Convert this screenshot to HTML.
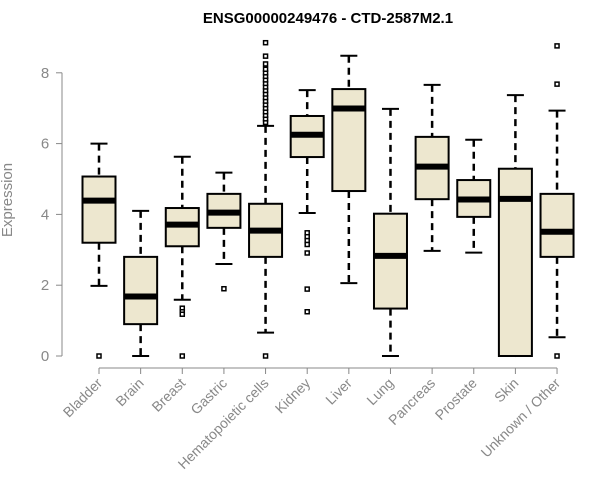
<!DOCTYPE html>
<html><head><meta charset="utf-8"><style>
body{margin:0;background:#fff}
svg{display:block;font-family:"Liberation Sans",Arial,sans-serif}
</style></head><body>
<svg id="chart" width="600" height="500">
<text x="328" y="23" text-anchor="middle" font-weight="bold" font-size="15">ENSG00000249476 - CTD-2587M2.1</text>
<text x="12" y="200" transform="rotate(-90 12 200)" text-anchor="middle" font-size="15" fill="#888">Expression</text>
<g id="yaxis"></g>
<g id="xaxis"></g>
<g id="boxes"></g>
</svg>
<script>
const categories=["Bladder","Brain","Breast","Gastric","Hematopoietic cells","Kidney","Liver","Lung","Pancreas","Prostate","Skin","Unknown / Other"];
const whiskerLow=[1.98,0,1.59,2.6,0.66,4.04,2.06,0,2.97,2.92,0,0.53];
const q1=[3.2,0.9,3.1,3.62,2.8,5.62,4.66,1.34,4.43,3.93,0,2.8];
const median=[4.39,1.68,3.71,4.05,3.54,6.25,6.99,2.83,5.35,4.42,4.44,3.51];
const q3=[5.07,2.8,4.18,4.58,4.3,6.78,7.54,4.02,6.19,4.97,5.29,4.58];
const whiskerHigh=[6.0,4.1,5.63,5.18,6.5,7.51,8.48,6.98,7.66,6.11,7.37,6.93];
const outliers=[[0],[],[1.35,1.25,1.18,0],[1.9],[0,6.6,6.7,6.8,6.9,7.0,7.1,7.2,7.3,7.4,7.5,7.6,7.7,7.8,7.9,8.0,8.1,8.25,8.47,8.85],[3.48,3.37,3.26,3.15,2.91,1.89,1.25],[],[],[],[],[],[8.76,7.68,0]];
const yTicks=[0,2,4,6,8];
const NS="http://www.w3.org/2000/svg";
const y=v=>356-v*35.4;
const x=i=>99+i*41.64;
function mk(tag,attrs,parent){const e=document.createElementNS(NS,tag);for(const k in attrs)e.setAttribute(k,attrs[k]);parent.appendChild(e);return e;}
const ya=document.getElementById('yaxis'),xa=document.getElementById('xaxis'),bx=document.getElementById('boxes');
mk('line',{x1:62,x2:62,y1:y(0),y2:y(8),stroke:'#888'},ya);
yTicks.forEach(t=>{mk('line',{x1:56,x2:62,y1:y(t),y2:y(t),stroke:'#888'},ya);
const tx=mk('text',{x:45,y:y(t)+5,'text-anchor':'middle','font-size':15,fill:'#888'},ya);tx.textContent=t;

});
mk('line',{x1:x(0),x2:x(categories.length-1),y1:368,y2:368,stroke:'#888'},xa);
categories.forEach((c,i)=>{mk('line',{x1:x(i),x2:x(i),y1:368,y2:374,stroke:'#888'},xa);
const tx=mk('text',{x:x(i)+4,y:384,'text-anchor':'end','font-size':14,fill:'#888',transform:`rotate(-45 ${x(i)+4} 384)`},xa);tx.textContent=c;


const g=mk('g',{},bx);


const cx=x(i),hw=16.5,cw=8.5;
mk('line',{x1:cx,x2:cx,y1:y(whiskerHigh[i]),y2:y(q3[i]),stroke:'#000','stroke-width':2.5,'stroke-dasharray':'7 5'},g);
mk('line',{x1:cx,x2:cx,y1:y(q1[i]),y2:y(whiskerLow[i]),stroke:'#000','stroke-width':2.5,'stroke-dasharray':'7 5'},g);
mk('line',{x1:cx-cw,x2:cx+cw,y1:y(whiskerHigh[i]),y2:y(whiskerHigh[i]),stroke:'#000','stroke-width':2},g);
mk('line',{x1:cx-cw,x2:cx+cw,y1:y(whiskerLow[i]),y2:y(whiskerLow[i]),stroke:'#000','stroke-width':2},g);
mk('rect',{x:cx-hw,y:y(q3[i]),width:2*hw,height:y(q1[i])-y(q3[i]),fill:'#ede7cf',stroke:'#000','stroke-width':2},g);
mk('line',{x1:cx-hw,x2:cx+hw,y1:y(median[i]),y2:y(median[i]),stroke:'#000','stroke-width':6},g);
outliers[i].forEach(o=>mk('rect',{x:cx-2,y:y(o)-2,width:4,height:4,fill:'#fff',stroke:'#000','stroke-width':1.5},g));
});
</script>
</body></html>
